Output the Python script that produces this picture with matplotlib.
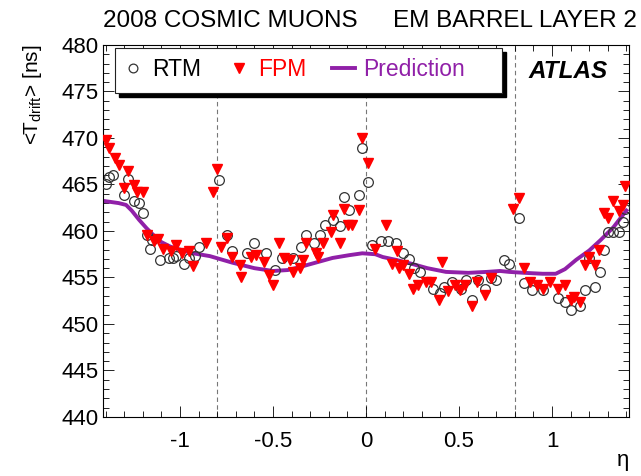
import matplotlib
matplotlib.use("Agg")
import matplotlib.pyplot as plt
from matplotlib.ticker import MultipleLocator, FuncFormatter
from matplotlib.patches import Rectangle
from matplotlib.transforms import offset_copy

plt.rcParams['font.family'] = ['Liberation Sans', 'DejaVu Sans']
plt.rcParams['axes.unicode_minus'] = False

# RTM measurements (eta, <T_drift> in ns)
rtm_eta = [-1.40, -1.38, -1.36, -1.30, -1.28, -1.25, -1.22, -1.20, -1.18, -1.16, -1.15,
           -1.11, -1.06, -1.04, -1.02, -0.98, -0.95, -0.92, -0.90, -0.79, -0.75, -0.72,
           -0.64, -0.60, -0.54, -0.49, -0.45, -0.39, -0.35, -0.32, -0.28, -0.25, -0.22,
           -0.18, -0.14, -0.12, -0.09, -0.04, -0.02, 0.01, 0.03, 0.08, 0.12, 0.16, 0.20,
           0.23, 0.26, 0.29, 0.36, 0.40, 0.42, 0.46, 0.51, 0.54, 0.57, 0.60, 0.64, 0.67,
           0.70, 0.74, 0.77, 0.82, 0.85, 0.89, 0.95, 1.03, 1.07, 1.10, 1.15, 1.18, 1.20,
           1.23, 1.26, 1.28, 1.30, 1.33, 1.36, 1.38, 1.39]
rtm_t = [465.1, 465.8, 466.0, 463.9, 465.6, 463.2, 463.0, 461.9, 459.6, 458.1, 459.0,
         456.9, 457.1, 457.1, 457.3, 456.4, 457.1, 457.3, 458.3, 465.5, 459.6, 457.8,
         457.6, 458.7, 457.6, 455.8, 457.1, 457.1, 458.3, 459.6, 458.7, 459.6, 460.6,
         461.2, 460.5, 463.7, 462.3, 463.9, 468.9, 465.3, 458.5, 458.9, 458.9, 458.7, 457.6,
         457.0, 456.0, 455.6, 453.8, 453.3, 454.0, 454.5, 453.8, 454.7, 452.6, 454.7, 453.8, 454.9,
         454.7, 456.9, 456.5, 461.4, 454.4, 453.7, 453.7, 452.8, 452.4, 451.5, 451.9, 453.7, 457.1,
         454.0, 455.6, 458.0, 459.9, 459.9, 459.9, 461.0, 462.4]

# FPM measurements
fpm_eta = [-1.40, -1.38, -1.35, -1.33, -1.30, -1.28, -1.25, -1.23, -1.20, -1.18, -1.14,
           -1.12, -1.09, -1.05, -1.02, -0.99, -0.95, -0.93, -0.86, -0.82, -0.80, -0.78,
           -0.75, -0.72, -0.68, -0.67, -0.62, -0.59, -0.55, -0.52, -0.50, -0.47, -0.44,
           -0.41, -0.39, -0.355, -0.34, -0.32, -0.27, -0.26, -0.23, -0.19, -0.18, -0.14,
           -0.12, -0.095, -0.077, -0.04, -0.02, 0.01, 0.05, 0.11, 0.14, 0.165, 0.18, 0.20,
           0.23, 0.25, 0.28, 0.32, 0.35, 0.39, 0.41, 0.44, 0.48, 0.505, 0.53, 0.57, 0.595,
           0.64, 0.67, 0.79, 0.82, 0.85, 0.88, 0.92, 0.95, 0.99, 1.03, 1.07, 1.10, 1.12,
           1.15, 1.18, 1.20, 1.23, 1.25, 1.28, 1.30, 1.33, 1.36, 1.38, 1.39]
fpm_t = [469.8, 468.9, 467.8, 467.1, 464.6, 466.4, 464.9, 464.2, 464.2, 459.6, 458.9,
         459.1, 458.1, 457.8, 458.5, 457.6, 457.9, 456.2, 458.7, 464.2, 466.7, 458.3,
         459.2, 457.2, 456.3, 455.1, 457.2, 457.4, 456.7, 455.3, 454.2, 458.7, 457.1,
         456.9, 455.6, 456.0, 456.9, 458.7, 457.6, 457.2, 458.7, 459.9, 461.7, 458.7,
         462.4, 460.6, 460.6, 462.3, 470.0, 467.3, 458.1, 460.6, 456.5, 457.8, 456.0, 456.3,
         455.4, 453.8, 454.2, 454.5, 454.5, 452.6, 456.7, 453.5, 454.2, 453.7, 454.2, 451.9, 454.5,
         453.1, 454.9, 462.4, 463.5, 456.0, 454.5, 454.2, 453.8, 454.5, 453.8, 454.2, 452.6, 452.9,
         452.4, 456.3, 457.2, 456.3, 458.0, 461.9, 461.4, 463.2, 462.1, 462.8, 464.8]

# prediction curve
pred_eta = [-1.40, -1.33, -1.29, -1.26, -1.22, -1.18, -1.14, -1.10, -1.05, -1.00, -0.93,
            -0.84, -0.72, -0.60, -0.50, -0.42, -0.36, -0.27, -0.18, -0.09, -0.02, 0.05,
            0.09, 0.16, 0.24, 0.33, 0.43, 0.55, 0.65, 0.72, 0.77, 0.85, 0.95, 1.02, 1.07,
            1.13, 1.20, 1.26, 1.33, 1.40]
pred_t = [463.2, 463.0, 462.8, 462.2, 461.2, 460.3, 459.5, 458.8, 458.3, 458.0, 457.6,
          457.3, 456.6, 456.0, 455.7, 455.8, 456.1, 456.6, 457.1, 457.4, 457.6, 457.5,
          457.2, 456.9, 456.5, 456.0, 455.6, 455.5, 455.6, 455.7, 455.6, 455.5, 455.4, 455.4, 455.9,
          456.9, 457.9, 459.0, 460.4, 462.2]

boundaries = [-0.8, 0.0, 0.8]

fig = plt.figure(figsize=(6.41, 4.76), dpi=100)
ax = fig.add_axes([0.1607, 0.124, 0.8206, 0.7815])

for b in boundaries:
    ax.axvline(b, color='#777777', ls=(0, (4, 3)), lw=0.8, zorder=1)

ax.plot(pred_eta, pred_t, color='#9020a8', lw=2.8, zorder=2, label='Prediction')
ax.plot(rtm_eta, rtm_t, 'o', ms=7, mfc='none', mec='#333333', mew=0.9, zorder=3, label='RTM')
ax.plot(fpm_eta, fpm_t, 'v', ms=7.5, color='#ff0000', mec='#ff0000', zorder=4, label='FPM')

ax.set_xlim(-1.414, 1.414)
ax.set_ylim(440, 480)
ax.xaxis.set_major_locator(MultipleLocator(0.5))
ax.xaxis.set_minor_locator(MultipleLocator(0.1))
ax.xaxis.set_major_formatter(FuncFormatter(lambda v, p: f'{v:g}'))
ax.yaxis.set_major_locator(MultipleLocator(5))
ax.yaxis.set_minor_locator(MultipleLocator(1))
ax.tick_params(which='both', direction='in', top=True, right=True, labelsize=16)
ax.tick_params(which='major', length=8, width=0.6)
ax.tick_params(which='minor', length=4, width=0.6)
ax.xaxis.set_tick_params(pad=10)
ax.yaxis.set_tick_params(pad=3)
for s in ax.spines.values():
    s.set_linewidth(0.8)

ax.set_ylabel(r'<T$_{\mathregular{drift}}$> [ns]', fontsize=15, loc='top', labelpad=13)
ax.set_xlabel('η', fontsize=16)
ax.xaxis.set_label_coords(1.0, -0.09)
ax.xaxis.label.set_horizontalalignment('right')

fig.text(0.161, 0.955, '2008 COSMIC MUONS', fontsize=17.5, va='center', ha='left')
fig.text(0.993, 0.955, 'EM BARREL LAYER 2', fontsize=17.5, va='center', ha='right')
ax.text(0.96, 0.93, 'ATLAS', transform=ax.transAxes, fontsize=17.5,
        fontweight='bold', fontstyle='italic', ha='right', va='center')

# legend box with ROOT-like shadow
box = (0.0228, 0.871, 0.735, 0.121)
shadow_tr = offset_copy(ax.transAxes, fig=fig, x=4, y=-4, units='dots')
ax.add_patch(Rectangle(box[:2], box[2], box[3], transform=shadow_tr,
                       facecolor='black', edgecolor='black', zorder=5))
ax.add_patch(Rectangle(box[:2], box[2], box[3], transform=ax.transAxes,
                       facecolor='white', edgecolor='#222222', lw=0.8, zorder=6))

h, l = ax.get_legend_handles_labels()
order = [1, 2, 0]
leg = ax.legend([h[i] for i in order], [l[i] for i in order], ncol=3,
                loc='center left', bbox_to_anchor=(0.035, 0.933),
                fontsize=16.5, frameon=False, handlelength=1.0, markerscale=0.9,
                handletextpad=0.33, borderpad=0, borderaxespad=0, columnspacing=1.15)
leg.set_zorder(7)
for txt, c in zip(leg.get_texts(), ['black', '#ff0000', '#9020a8']):
    txt.set_color(c)

fig.savefig('out.png', dpi=100)
